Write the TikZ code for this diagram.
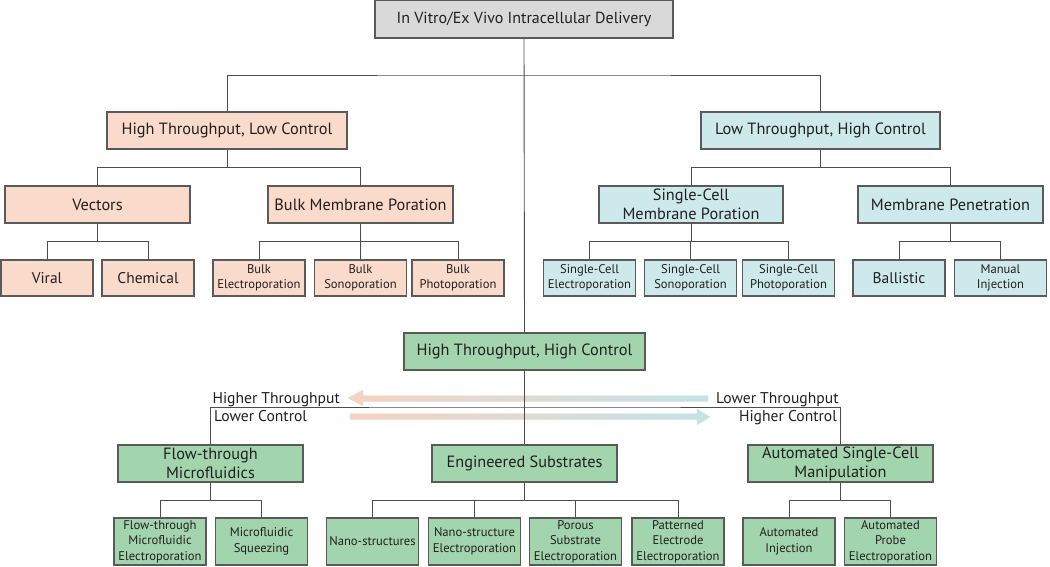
\documentclass[tikz,border=0pt]{standalone}
\usepackage{fontspec}
\setmainfont{PT Sans}
\definecolor{peach}{HTML}{FADBCB}
\definecolor{sky}{HTML}{CDE9EC}
\definecolor{mint}{HTML}{A2D4AE}
\definecolor{grayfill}{HTML}{D9D9D9}
\definecolor{edge}{HTML}{5A5A5A}
\definecolor{txt}{HTML}{231F20}
\definecolor{arrpeach}{HTML}{F8D2C0}
\definecolor{arrblue}{HTML}{C2E3E8}
\begin{document}
\begin{tikzpicture}[x=1pt,y=-1pt,
  box/.style={draw=edge,line width=1.3pt,text=txt,inner sep=0pt,align=center,font=\fontsize{16.3}{19}\selectfont,minimum height=37pt},
  leaf/.style={draw=edge,line width=1.3pt,text=txt,inner sep=0pt,align=center,font=\fontsize{12.6}{15.5}\selectfont,minimum width=92pt,minimum height=36pt},
  bleaf/.style={leaf,minimum height=47pt},
  conn/.style={draw=edge!85!black,line width=0.9pt},
  lab/.style={text=txt,font=\fontsize{15.6}{18}\selectfont,inner sep=0pt}]
\useasboundingbox (0,0) rectangle (1050,566);
% gradient arrows
\shade[left color=arrpeach,right color=arrblue,draw=gray!25,line width=0.3pt]
  (348,398) -- (363,390) -- (363,395.5) -- (708,395.5) -- (708,401.5) -- (363,401.5) -- (363,406) -- cycle;
\shade[left color=arrpeach,right color=arrblue,draw=gray!25,line width=0.3pt]
  (350,413.5) -- (697,413.5) -- (697,409) -- (710,417) -- (697,425) -- (697,419.5) -- (350,419.5) -- cycle;
% root
\node[box,fill=grayfill,minimum width=298pt,minimum height=38pt,font=\fontsize{16}{19}\selectfont] (root) at (524,19) {In Vitro/Ex Vivo Intracellular Delivery};
% level 1
\node[box,fill=peach,minimum width=240pt] (htlc) at (227,130.5) {High Throughput, Low Control};
\node[box,fill=sky,minimum width=239pt] (lthc) at (820.5,130.5) {Low Throughput, High Control};
\node[box,fill=mint,minimum width=241pt] (hthc) at (524.5,351.5) {High Throughput, High Control};
% level 2
\node[box,fill=peach,minimum width=185pt] (vec) at (97.5,204.5) {Vectors};
\node[box,fill=peach,minimum width=185pt] (bmp) at (360.5,204.5) {Bulk Membrane Poration};
\node[box,fill=sky,minimum width=184pt] (scmp) at (691,204.5) {Single-Cell\\Membrane Poration};
\node[box,fill=sky,minimum width=185pt] (mpen) at (950.5,204.5) {Membrane Penetration};
\node[box,fill=mint,minimum width=185pt] (flow) at (210.5,463.5) {Flow-through\\Microfluidics};
\node[box,fill=mint,minimum width=185pt] (eng) at (524.5,463.5) {Engineered Substrates};
\node[box,fill=mint,minimum width=185pt] (auto) at (840.5,463.5) {Automated Single-Cell\\Manipulation};
% leaves top
\node[leaf,fill=peach,font=\fontsize{15.5}{18}\selectfont] (viral) at (47,278) {Viral};
\node[leaf,fill=peach,font=\fontsize{15.5}{18}\selectfont] (chem) at (148,278) {Chemical};
\node[leaf,fill=peach] (be) at (259,278) {Bulk\\Electroporation};
\node[leaf,fill=peach] (bs) at (360.5,278) {Bulk\\Sonoporation};
\node[leaf,fill=peach] (bp) at (458,278) {Bulk\\Photoporation};
\node[leaf,fill=sky] (sce) at (589.5,278) {Single-Cell\\Electroporation};
\node[leaf,fill=sky] (scs) at (690.5,278) {Single-Cell\\Sonoporation};
\node[leaf,fill=sky] (scp) at (788.5,278) {Single-Cell\\Photoporation};
\node[leaf,fill=sky,font=\fontsize{15.5}{18}\selectfont] (bal) at (899,278) {Ballistic};
\node[leaf,fill=sky] (man) at (1000.5,278) {Manual\\Injection};
% leaves bottom
\node[bleaf,fill=mint] (fme) at (160,541.5) {Flow-through\\Microfluidic\\Electroporation};
\node[bleaf,fill=mint] (msq) at (261.5,541.5) {Microfluidic\\Squeezing};
\node[bleaf,fill=mint] (nst) at (372.5,541.5) {Nano-structures};
\node[bleaf,fill=mint] (nse) at (474.5,541.5) {Nano-structure\\Electroporation};
\node[bleaf,fill=mint] (pse) at (575.5,541.5) {Porous\\Substrate\\Electroporation};
\node[bleaf,fill=mint] (pee) at (678,541.5) {Patterned\\Electrode\\Electroporation};
\node[bleaf,fill=mint] (ain) at (789,541.5) {Automated\\Injection};
\node[bleaf,fill=mint] (ape) at (890.5,541.5) {Automated\\Probe\\Electroporation};
% junctions
\coordinate (j1) at (524,75);
\coordinate (j2) at (524,407);
\draw[conn] (htlc.north) |- (j1) -| (lthc.north);
\draw[conn] (root.south) -- (hthc.north);
\draw[conn] (hthc.south) -- (eng.north);
\draw[conn] (flow.north) |- (j2) -| (auto.north);
\foreach \p/\c in {htlc/vec,htlc/bmp,lthc/scmp,lthc/mpen}{
  \draw[conn] (\p.south) -- ++(0,18) -| (\c.north);}
\foreach \p/\c in {vec/viral,vec/chem,bmp/be,bmp/bs,bmp/bp,scmp/sce,scmp/scs,scmp/scp,mpen/bal,mpen/man}{
  \draw[conn] (\p.south) -- ++(0,18) -| (\c.north);}
\foreach \p/\c in {flow/fme,flow/msq,eng/nst,eng/nse,eng/pse,eng/pee,auto/ain,auto/ape}{
  \draw[conn] (\p.south) -- ++(0,18) -| (\c.north);}
% labels
\node[lab,anchor=base east] (ht) at (340,403) {Higher Throughput};
\node[lab,anchor=base west] (lt) at (716,403) {Lower Throughput};
\node[lab,anchor=base west] (lc) at (214,421) {Lower Control};
\node[lab,anchor=base east] (hc) at (837,421) {Higher Control};
\end{tikzpicture}
\end{document}
